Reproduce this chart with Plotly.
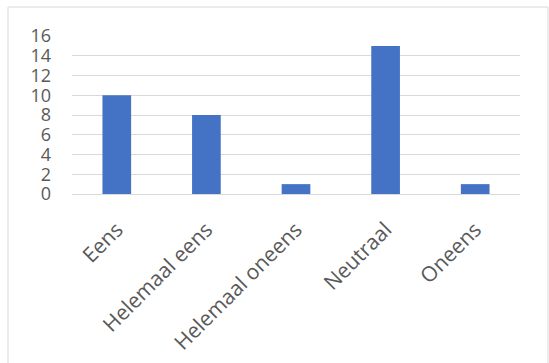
import plotly.graph_objects as go

categories = ["Eens", "Helemaal eens", "Helemaal oneens", "Neutraal", "Oneens"]
values = [10, 8, 1, 15, 1]
y_ticks = [0, 2, 4, 6, 8, 10, 12, 14, 16]

W, H = 549, 363
ml, mr, mt, mb = 72, 29, 36, 169

fig = go.Figure()
fig.add_trace(go.Bar(
    x=categories, y=values,
    marker=dict(color="#4472C4", line=dict(width=0)),
))

fig.update_layout(
    width=W, height=H,
    margin=dict(l=ml, r=mr, t=mt, b=mb, autoexpand=False),
    paper_bgcolor="white", plot_bgcolor="white",
    bargap=0.68,
    showlegend=False,
    font=dict(family="Open Sans", color="#595959", size=18),
    xaxis=dict(
        tickangle=-45,
        showgrid=False,
        showline=True, linecolor="#D9D9D9", linewidth=1,
        ticks="", ticklabelstandoff=14,
        tickfont=dict(size=21, color="#595959"),
    ),
    yaxis=dict(
        range=[0, 16],
        tickvals=y_ticks,
        showgrid=True, gridcolor="#D9D9D9", gridwidth=1,
        zeroline=False, showline=False,
        ticks="", ticklabelstandoff=20,
        tickfont=dict(size=18, color="#595959"),
    ),
    shapes=[dict(
        type="rect", xref="paper", yref="paper",
        x0=(8 - ml) / (W - ml - mr), x1=(548 - ml) / (W - ml - mr),
        y0=-(H + 5 - (H - mb)) / (H - mt - mb), y1=1 + (mt - 7) / (H - mt - mb),
        line=dict(color="#D9D9D9", width=1), fillcolor="rgba(0,0,0,0)",
        layer="below",
    )],
)

fig.write_html("out.html")
